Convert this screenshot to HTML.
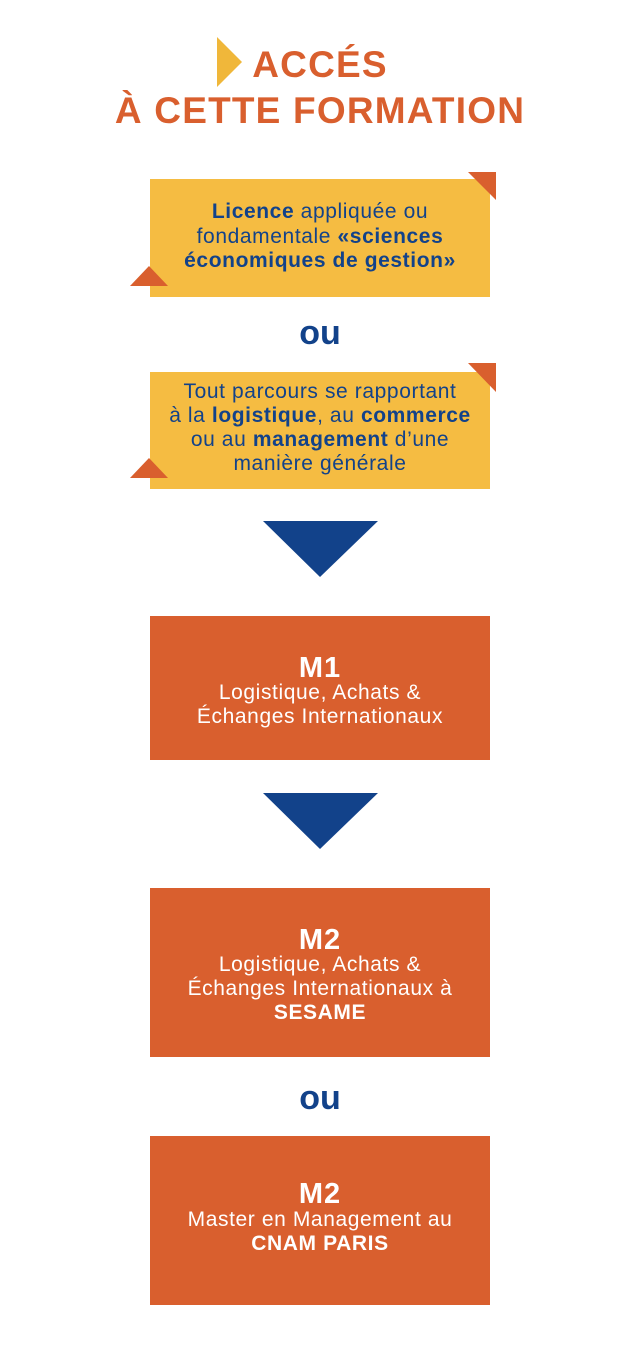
<!DOCTYPE html>
<html><head><meta charset="utf-8"><style>
body{margin:0;width:640px;height:1358px;background:#fff;position:relative;overflow:hidden;font-family:"Liberation Sans",sans-serif}
.a{position:absolute}
.l{position:absolute;left:0;width:640px;text-align:center;line-height:24px;font-size:21px;letter-spacing:0.6px;white-space:nowrap}
.y{color:#12428a}.w{color:#fff}
b{font-weight:bold}
.t{position:absolute;left:0;width:640px;text-align:center;color:#d95f2e;font-weight:bold;font-size:37px;line-height:40px;letter-spacing:1.2px}
.ou{position:absolute;left:0;width:640px;text-align:center;color:#12428a;font-weight:bold;font-size:34px;line-height:36px}
.h{font-size:29px;font-weight:bold;letter-spacing:1px}
</style></head><body>
<svg class="a" style="left:0;top:0" width="640" height="1358">
<polygon points="217,37 242,62 217,87" fill="#f0b73a"/>
<rect x="150" y="179" width="340" height="118" fill="#f5bc42"/>
<polygon points="468,172 496,172 496,200" fill="#d95f2e"/>
<polygon points="130,286 149,266 168,286" fill="#d95f2e"/>
<rect x="150" y="372" width="340" height="117" fill="#f5bc42"/>
<polygon points="468,363 496,363 496,392" fill="#d95f2e"/>
<polygon points="130,478 149,458 168,478" fill="#d95f2e"/>
<polygon points="263,521 378,521 320,577" fill="#12428a"/>
<rect x="150" y="616" width="340" height="144" fill="#d95f2e"/>
<polygon points="263,793 378,793 320,849" fill="#12428a"/>
<rect x="150" y="888" width="340" height="169" fill="#d95f2e"/>
<rect x="150" y="1136" width="340" height="169" fill="#d95f2e"/>
</svg>
<div class="t" style="top:45px">ACCÉS</div>
<div class="t" style="top:91px">À CETTE FORMATION</div>

<div class="l y" style="top:200px"><b>Licence</b> appliquée ou</div>
<div class="l y" style="top:225px">fondamentale <b>«sciences</b></div>
<div class="l y" style="top:249px"><b>économiques de gestion»</b></div>

<div class="ou" style="top:315px">ou</div>

<div class="l y" style="top:380px">Tout parcours se rapportant</div>
<div class="l y" style="top:404px">à la <b>logistique</b>, au <b>commerce</b></div>
<div class="l y" style="top:428px">ou au <b>management</b> d’une</div>
<div class="l y" style="top:452px">manière générale</div>

<div class="l w h" style="top:654px;line-height:28px">M1</div>
<div class="l w" style="top:681px">Logistique, Achats &amp;</div>
<div class="l w" style="top:705px">Échanges Internationaux</div>

<div class="l w h" style="top:926px;line-height:28px">M2</div>
<div class="l w" style="top:953px">Logistique, Achats &amp;</div>
<div class="l w" style="top:977px">Échanges Internationaux à</div>
<div class="l w" style="top:1001px"><b>SESAME</b></div>

<div class="ou" style="top:1080px">ou</div>

<div class="l w h" style="top:1180px;line-height:28px">M2</div>
<div class="l w" style="top:1208px">Master en Management au</div>
<div class="l w" style="top:1232px"><b>CNAM PARIS</b></div>
</body></html>
